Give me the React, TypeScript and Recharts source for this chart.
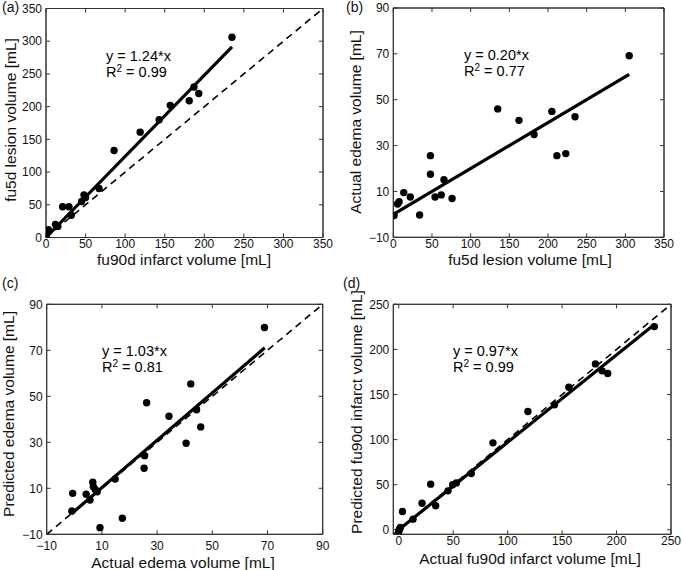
import React from 'react';
import { ScatterChart, Scatter, XAxis, YAxis, ReferenceLine, ReferenceArea } from 'recharts';

const FONT = '"Liberation Sans", Arial, Helvetica, sans-serif';

// ---- data ----
// (a) fu90d infarct volume vs fu5d lesion volume
const aX = [0, 0.5, 1.5, 3, 12, 15, 21, 29, 32, 45, 48, 50, 67, 86, 119, 143, 157, 181, 187, 193, 235];
const aY = [1, 4, 8, 12, 20, 17, 47, 47, 34, 55, 65, 61, 75, 133, 161, 180, 202, 209, 230, 220, 306];
// (b) fu5d lesion volume vs actual edema volume
const bX = [1, 5.5, 7.5, 13.5, 22, 34, 48, 48, 54, 62, 65.5, 76, 135, 162.5, 182, 205, 211.5, 223, 235, 305];
const bY = [-0.5, 4.5, 5.5, 9.5, 7.6, -0.3, 25.6, 17.5, 7.6, 8.5, 15.1, 6.9, 46, 41, 34.8, 44.9, 25.6, 26.5, 42.6, 69.2];
// (c) actual edema volume vs predicted edema volume
const cX = [-0.9, -0.6, 4.3, 5.7, 6.7, 6.9, 7.6, 8.3, 9.3, 14.8, 17.4, 25.3, 25.5, 26.2, 34.3, 40.5, 42.2, 44.3, 45.8, 68.9];
const cY = [0.1, 7.8, 7.4, 4.9, 12.6, 10.7, 9.5, 8.5, -7.1, 14, -3, 18.7, 24.2, 47.2, 41.3, 29.6, 55.4, 44.1, 36.7, 79.9];
// (d) actual fu90d infarct volume vs predicted fu90d infarct volume
const dX = [0, 0.5, 1.5, 3.4, 13.1, 21.4, 29.3, 33.9, 45.2, 49.5, 52.9, 66.6, 86.5, 118.6, 143, 156.2, 180.6, 186.7, 191.9, 234.7];
const dY = [-1.8, 0.5, 2.6, 20.3, 11.8, 29.5, 50.6, 26.6, 43.2, 50, 52, 62.4, 96.4, 131.1, 138.5, 158.1, 183.9, 176.2, 173.2, 225.3];

// regression slopes and x-extent of the fitted lines
const fitSlopes = [1.24, 0.2, 1.03, 0.97];
const fitRanges = [[0, 235], [0, 305], [-1, 69], [0, 235]];
const r2Values = ['0.99', '0.77', '0.81', '0.99'];

// axis ticks
const ticks0to350 = [0, 50, 100, 150, 200, 250, 300, 350];
const ticksEdema = [-10, 10, 30, 50, 70, 90];
const ticks0to250 = [0, 50, 100, 150, 200, 250];

const panelLetters = ['(a)', '(b)', '(c)', '(d)'];
const xLabels = ['fu90d infarct volume [mL]', 'fu5d lesion volume [mL]', 'Actual edema volume [mL]', 'Actual fu90d infarct volume [mL]'];
const yLabels = ['fu5d lesion volume [mL]', 'Actual edema volume [mL]', 'Predicted edema volume [mL]', 'Predicted fu90d infarct volume [mL]'];

const zip = (xs: number[], ys: number[]) => xs.map((x, i) => ({ x, y: ys[i] }));

const fmt = (v: number) => String(v).replace('-', '\u2212');

const Dot = (props: any) => {
  const { cx, cy } = props;
  if (cx == null || cy == null) return <g />;
  return <circle cx={cx} cy={cy} r={3.7} fill="#000" />;
};

const Empty = () => <g />;

type Cfg = {
  left: number;
  top: number;
  plot: { left: number; right: number; top: number; bottom: number };
  xDomain: [number, number];
  yDomain: [number, number];
  xTicks: number[];
  yTicks: number[];
  xTickMargin: number;
  data: { x: number; y: number }[];
  idx: number;
  identity: [number, number] | null;
  letterPos: [number, number];
  annPos: [number, number];
  xLabelPos: [number, number];
  yLabelPos: [number, number];
};

const W = 341;
const H = 285;
const AXIS = '#333';
const LABEL_FS = 15.5;

function Panel(c: Cfg) {
  const slope = fitSlopes[c.idx];
  const [f0, f1] = fitRanges[c.idx];
  const margin = { top: c.plot.top - 1, right: W - c.plot.right - 1, left: 0, bottom: 0 };
  const tickStyle = { fontSize: 12, fill: '#111', fontFamily: FONT };
  return (
    <div style={{ position: 'absolute', left: c.left, top: c.top, width: W, height: H }}>
      <ScatterChart width={W} height={H} margin={margin} style={{ fontFamily: FONT }}>
        <XAxis
          xAxisId="b"
          type="number"
          dataKey="x"
          domain={c.xDomain}
          ticks={c.xTicks}
          interval={0}
          allowDataOverflow
          height={H - c.plot.bottom}
          tickSize={-4}
          tickMargin={c.xTickMargin}
          stroke={AXIS}
          tick={tickStyle}
          tickFormatter={fmt}
        />
        <XAxis
          xAxisId="t"
          orientation="top"
          type="number"
          dataKey="x"
          domain={c.xDomain}
          ticks={c.xTicks}
          interval={0}
          allowDataOverflow
          height={1}
          tickSize={-4}
          tick={Empty}
          stroke={AXIS}
        />
        <YAxis
          yAxisId="l"
          type="number"
          dataKey="y"
          domain={c.yDomain}
          ticks={c.yTicks}
          interval={0}
          allowDataOverflow
          width={c.plot.left}
          tickSize={-4}
          tickMargin={8}
          stroke={AXIS}
          tick={tickStyle}
          tickFormatter={fmt}
        />
        <YAxis
          yAxisId="r"
          orientation="right"
          type="number"
          dataKey="y"
          domain={c.yDomain}
          ticks={c.yTicks}
          interval={0}
          allowDataOverflow
          width={1}
          tickSize={-4}
          tick={Empty}
          stroke={AXIS}
        />
        <ReferenceArea
          xAxisId="b"
          yAxisId="l"
          x1={c.xDomain[0]}
          x2={c.xDomain[1]}
          y1={c.yDomain[0]}
          y2={c.yDomain[1]}
          fill="none"
          fillOpacity={0}
          stroke={AXIS}
          strokeWidth={1}
        />
        {c.identity && (
          <ReferenceLine
            xAxisId="b"
            yAxisId="l"
            segment={[
              { x: c.identity[0], y: c.identity[0] },
              { x: c.identity[1], y: c.identity[1] },
            ]}
            stroke="#000"
            strokeWidth={1.6}
            strokeDasharray="7 5"
          />
        )}
        <ReferenceLine
          xAxisId="b"
          yAxisId="l"
          segment={[
            { x: f0, y: f0 * slope },
            { x: f1, y: f1 * slope },
          ]}
          stroke="#000"
          strokeWidth={3.2}
        />
        <Scatter xAxisId="t" yAxisId="r" data={c.data} shape={Empty} isAnimationActive={false} />
        <Scatter xAxisId="b" yAxisId="l" data={c.data} shape={Dot} isAnimationActive={false} />
      </ScatterChart>
      <div style={{ position: 'absolute', left: c.letterPos[0], top: c.letterPos[1], fontSize: 14, lineHeight: '16px', fontFamily: FONT, color: '#111' }}>
        {panelLetters[c.idx]}
      </div>
      <div style={{ position: 'absolute', left: c.annPos[0], top: c.annPos[1], fontSize: 14.5, lineHeight: '16px', fontFamily: FONT, color: '#000', whiteSpace: 'nowrap' }}>
        <div>{'y = ' + fitSlopes[c.idx].toFixed(2) + '*x'}</div>
        <div>
          R<span style={{ fontSize: 10, position: 'relative', top: -5 }}>2</span>
          {' = ' + r2Values[c.idx]}
        </div>
      </div>
      <div style={{ position: 'absolute', left: c.xLabelPos[0] - 150, top: c.xLabelPos[1] - 7, width: 300, height: 14, textAlign: 'center', fontSize: LABEL_FS, lineHeight: '14px', fontFamily: FONT, color: '#111', whiteSpace: 'nowrap' }}>
        {xLabels[c.idx]}
      </div>
      <div style={{ position: 'absolute', left: c.yLabelPos[0] - 150, top: c.yLabelPos[1] - 7, width: 300, height: 14, textAlign: 'center', fontSize: LABEL_FS, lineHeight: '14px', fontFamily: FONT, color: '#111', whiteSpace: 'nowrap', transform: 'rotate(-90deg)' }}>
        {yLabels[c.idx]}
      </div>
    </div>
  );
}

export default function App() {
  const panels: Cfg[] = [
    {
      left: 0, top: 0,
      plot: { left: 46, right: 323, top: 8.5, bottom: 237.5 },
      xDomain: [0, 350], yDomain: [0, 350], xTicks: ticks0to350, yTicks: ticks0to350, xTickMargin: 6,
      data: zip(aX, aY), idx: 0, identity: [0, 350],
      letterPos: [2, -1], annPos: [106, 48], xLabelPos: [184, 260], yLabelPos: [11, 120],
    },
    {
      left: 341, top: 0,
      plot: { left: 52.3, right: 323, top: 8, bottom: 237.3 },
      xDomain: [0, 350], yDomain: [-10, 90], xTicks: ticks0to350, yTicks: ticksEdema, xTickMargin: 6,
      data: zip(bX, bY), idx: 1, identity: null,
      letterPos: [5, -1], annPos: [123, 47], xLabelPos: [189, 260], yLabelPos: [15, 122],
    },
    {
      left: 0, top: 285,
      plot: { left: 46.7, right: 322.7, top: 19.3, bottom: 249.3 },
      xDomain: [-10, 90], yDomain: [-10, 90], xTicks: ticksEdema, yTicks: ticksEdema, xTickMargin: 11,
      data: zip(cX, cY), idx: 2, identity: [-10, 90],
      letterPos: [2, -10], annPos: [102, 58], xLabelPos: [183, 277.5], yLabelPos: [9, 129],
    },
    {
      left: 341, top: 285,
      plot: { left: 52.3, right: 330, top: 19.3, bottom: 249.3 },
      xDomain: [-5, 250], yDomain: [-5, 250], xTicks: ticks0to250, yTicks: ticks0to250, xTickMargin: 6,
      data: zip(dX, dY), idx: 3, identity: [-5, 250],
      letterPos: [2, -10], annPos: [112, 58], xLabelPos: [189, 274], yLabelPos: [15.5, 127],
    },
  ];
  return (
    <div style={{ position: 'absolute', left: 0, top: 0, width: 682, height: 570, background: '#fff', overflow: 'hidden' }}>
      {panels.map((p) => (
        <Panel key={p.idx} {...p} />
      ))}
    </div>
  );
}
